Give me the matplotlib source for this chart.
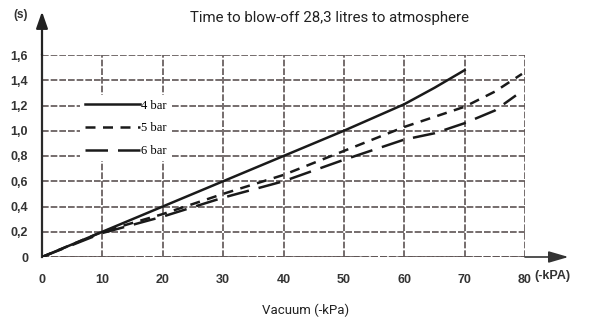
import matplotlib.pyplot as plt
import numpy as np

# vacuum (-kPa) vs blow-off time (s)
vac_4bar = [0, 10, 20, 30, 40, 50, 60, 65, 70]
t_4bar = [0, 0.2, 0.4, 0.6, 0.8, 1.0, 1.21, 1.34, 1.48]
vac_5bar = [0, 10, 20, 30, 40, 50, 60, 70, 75, 79.5]
t_5bar = [0, 0.2, 0.34, 0.5, 0.65, 0.84, 1.03, 1.19, 1.31, 1.45]
vac_6bar = [0, 10, 20, 30, 40, 50, 60, 65, 70, 75, 78.5]
t_6bar = [0, 0.19, 0.32, 0.47, 0.6, 0.77, 0.93, 0.98, 1.06, 1.16, 1.28]

x_ticks = [0, 10, 20, 30, 40, 50, 60, 70, 80]
y_ticks = [0, 0.2, 0.4, 0.6, 0.8, 1.0, 1.2, 1.4, 1.6]
y_labels = ['0', '0,2', '0,4', '0,6', '0,8', '1,0', '1,2', '1,4', '1,6']

W, H = 590, 323
fig = plt.figure(figsize=(W / 100, H / 100), dpi=100)
ax = fig.add_axes([42 / W, 1 - 257 / H, 483 / W, 202 / H])

grid_c = '#5e5454'
line_c = '#1a1a1a'

ax.plot(vac_4bar, t_4bar, color=line_c, lw=1.8, label='4 bar', zorder=3)
ax.plot(vac_5bar, t_5bar, color=line_c, lw=1.8, dashes=(4, 3), label='5 bar', zorder=3)
ax.plot(vac_6bar, t_6bar, color=line_c, lw=1.8, dashes=(9, 4), label='6 bar', zorder=3)

ax.set_xlim(0, 80)
ax.set_ylim(0, 1.6)
ax.set_xticks(x_ticks)
ax.set_yticks(y_ticks)
ax.set_yticklabels(y_labels)
ax.tick_params(length=0, labelsize=9, colors='#333333', pad=10)
ax.tick_params(axis='x', pad=12)
for lab in ax.get_xticklabels() + ax.get_yticklabels():
    lab.set_family('Liberation Sans')
    lab.set_fontweight('bold')

ax.grid(True, color=grid_c, lw=1.2, dashes=(4, 1.2))
for s in ['top', 'right', 'bottom']:
    ax.spines[s].set_visible(False)
ax.spines['left'].set_color('#2a2a2a')
ax.spines['left'].set_linewidth(1.6)
ax.axhline(0, color=grid_c, lw=1.3, dashes=(4, 1.2), zorder=1)

# axis arrows
ax.annotate('', xy=(1.09, 0), xycoords='axes fraction', xytext=(1.0, 0),
            arrowprops=dict(arrowstyle='-|>,head_length=1.2,head_width=0.35',
                            color='#333333', lw=1.2, shrinkA=0, shrinkB=0),
            annotation_clip=False)
ax.annotate('', xy=(0, 1.215), xycoords='axes fraction', xytext=(0, 1.0),
            arrowprops=dict(arrowstyle='-|>,head_length=1.0,head_width=0.35',
                            color='#222222', lw=1.6, shrinkA=0, shrinkB=0),
            annotation_clip=False)

ax.text(-0.045, 1.2, '(s)', transform=ax.transAxes, ha='center', va='center',
        fontsize=8.5, fontweight='bold', color='#333333', family='Liberation Sans')
ax.text(1.02, -0.095, '(-kPA)', transform=ax.transAxes, ha='left', va='center',
        fontsize=9, fontweight='bold', color='#333333', family='Liberation Sans')

leg = ax.legend(loc='upper left', bbox_to_anchor=(0.079, 0.80), frameon=True,
                framealpha=1, edgecolor='none', facecolor='white',
                handlelength=4.4, handletextpad=0.1, labelspacing=0.85,
                borderpad=0.35, borderaxespad=0,
                prop={'family': 'Liberation Serif', 'size': 9})
leg.set_zorder(5)

fig.text(330 / W, 1 - 18 / H, 'Time to blow-off 28,3 litres to atmosphere',
         ha='center', va='center', fontsize=10.8, family='Roboto', color='#222222')
fig.text(306 / W, 1 - 310 / H, 'Vacuum (-kPa)', ha='center', va='center',
         fontsize=9.5, family='Roboto', color='#222222')

fig.savefig('out.png', dpi=100)
